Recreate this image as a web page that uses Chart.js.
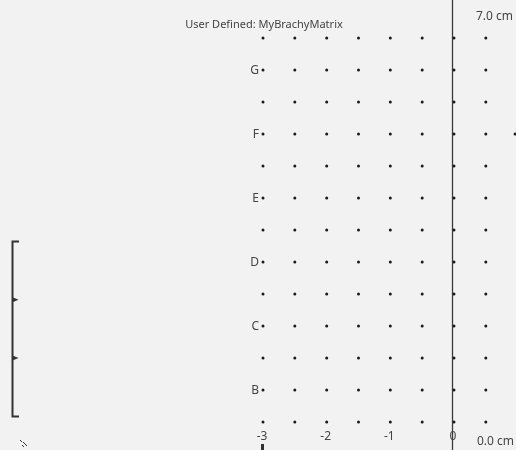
<!DOCTYPE html>
<html>
<head>
<meta charset="utf-8">
<script src="https://cdn.jsdelivr.net/npm/chart.js@4/dist/chart.umd.min.js"></script>
<style>
  html, body { margin: 0; padding: 0; background: #f2f2f2; }
  #wrap { width: 516px; height: 450px; position: relative; }
</style>
</head>
<body>
<div id="wrap"><canvas id="matrixChart"></canvas></div>
<script>
// brachy template grid: columns in cm, rows labelled by letter

const columnValues = [-3, -2.5, -2, -1.5, -1, -0.5, 0, 0.5];
const rowValues = [6.5, 6, 5.5, 5, 4.5, 4, 3.5, 3, 2.5, 2, 1.5, 1, 0.5];
const rowLabels = ["G", "F", "E", "D", "C", "B"];
const rowLabelValues = [6, 5, 4, 3, 2, 1];
const extraPoints = [{ x: 0.96, y: 5 }];
const xTickLabels = ["-3", "-2", "-1", "0"];
const xTickValues = [-3, -2, -1, 0];
const title = "User Defined: MyBrachyMatrix";
const topDepthLabel = "7.0 cm";
const bottomDepthLabel = "0.0 cm";
const bracketRange = [3.33, 0.6];
const bracketMarks = [2.41, 1.5];

let gridPoints = [];
rowValues.forEach(function (y) {
  columnValues.forEach(function (x) {
    gridPoints.push({ x: x, y: y });
  });
});
gridPoints = gridPoints.concat(extraPoints);

const overlayPlugin = {
  id: "overlay",
  beforeDatasetsDraw(chart) {
    const c = chart.ctx;
    const xs = chart.scales.x;
    const h = chart.height;
    c.save();
    // needle line at x = 0
    const x0 = Math.round(xs.getPixelForValue(0)) - 1.5;
    c.strokeStyle = "#3a3a3a";
    c.lineWidth = 1.3;
    c.beginPath();
    c.moveTo(x0, 0);
    c.lineTo(x0, h);
    c.stroke();
    c.restore();
  },
  afterDatasetsDraw(chart) {
    const c = chart.ctx;
    const xs = chart.scales.x;
    const ys = chart.scales.y;
    const w = chart.width;
    const h = chart.height;
    c.save();
    c.fillStyle = "#444";
    c.textBaseline = "middle";

    // row letters
    c.font = "12px 'Noto Sans'";
    c.textAlign = "right";
    const xFirst = xs.getPixelForValue(columnValues[0]);
    rowLabels.forEach(function (lab, i) {
      c.fillText(lab, xFirst - 4, ys.getPixelForValue(rowLabelValues[i]) + 1);
    });

    // x tick labels
    c.textAlign = "center";
    xTickLabels.forEach(function (lab, i) {
      c.fillText(lab, xs.getPixelForValue(xTickValues[i]) - 1, h - 13);
    });

    // title
    c.font = "11px 'Noto Sans'";
    c.fillStyle = "#444";
    c.textAlign = "center";
    c.fillText(title, xFirst + 1, 25);

    // depth labels
    c.font = "12px 'Noto Sans'";
    c.textAlign = "right";
    c.fillText(topDepthLabel, w - 3, 17);
    c.fillText(bottomDepthLabel, w - 2, h - 8);

    // bracket on the left
    const bx = 12.5;
    const bt = Math.round(ys.getPixelForValue(bracketRange[0])) + 0.5;
    const bb = Math.round(ys.getPixelForValue(bracketRange[1])) + 0.5;
    c.strokeStyle = "#333";
    c.lineWidth = 2;
    c.beginPath();
    c.moveTo(19, bt);
    c.lineTo(bx, bt);
    c.lineTo(bx, bb);
    c.lineTo(19, bb);
    c.stroke();
    c.fillStyle = "#333";
    bracketMarks.forEach(function (v) {
      const py = ys.getPixelForValue(v);
      c.beginPath();
      c.moveTo(bx, py - 2.5);
      c.lineTo(bx + 6, py);
      c.lineTo(bx, py + 2.5);
      c.closePath();
      c.fill();
    });

    // small marker under first column
    c.fillRect(Math.round(xFirst) - 2, h - 6, 3, 6);

    // little hatch icon bottom-left
    c.lineWidth = 1;
    c.strokeStyle = "#333";
    [[20, 440], [23, 442], [22, 445], [25, 444]].forEach(function (p) {
      c.beginPath();
      c.moveTo(p[0], p[1]);
      c.lineTo(p[0] + 2, p[1] + 2);
      c.stroke();
    });
    c.restore();
  }
};

const ctx = document.getElementById("matrixChart").getContext("2d");
const matrixChart = new Chart(ctx, {
  type: "scatter",
  data: {
    datasets: [
      {
        label: "Template points",
        data: gridPoints,
        pointStyle: "circle",
        pointRadius: 1.5,
        pointBorderWidth: 0,
        backgroundColor: "#1a1a1a",
        borderColor: "#1a1a1a",
        clip: false,
      },
    ],
  },
  options: {
    responsive: true,
    maintainAspectRatio: false,
    animation: false,
    layout: { padding: 0, autoPadding: false },
    events: [],
    scales: {
      x: { type: "linear", display: false, min: -7.131, max: 0.974 },
      y: { type: "linear", display: false, min: 0.0625, max: 7.094 },
    },
    plugins: {
      legend: { display: false },
      tooltip: { enabled: false },
    },
  },
  plugins: [overlayPlugin],
});
</script>
</body>
</html>
